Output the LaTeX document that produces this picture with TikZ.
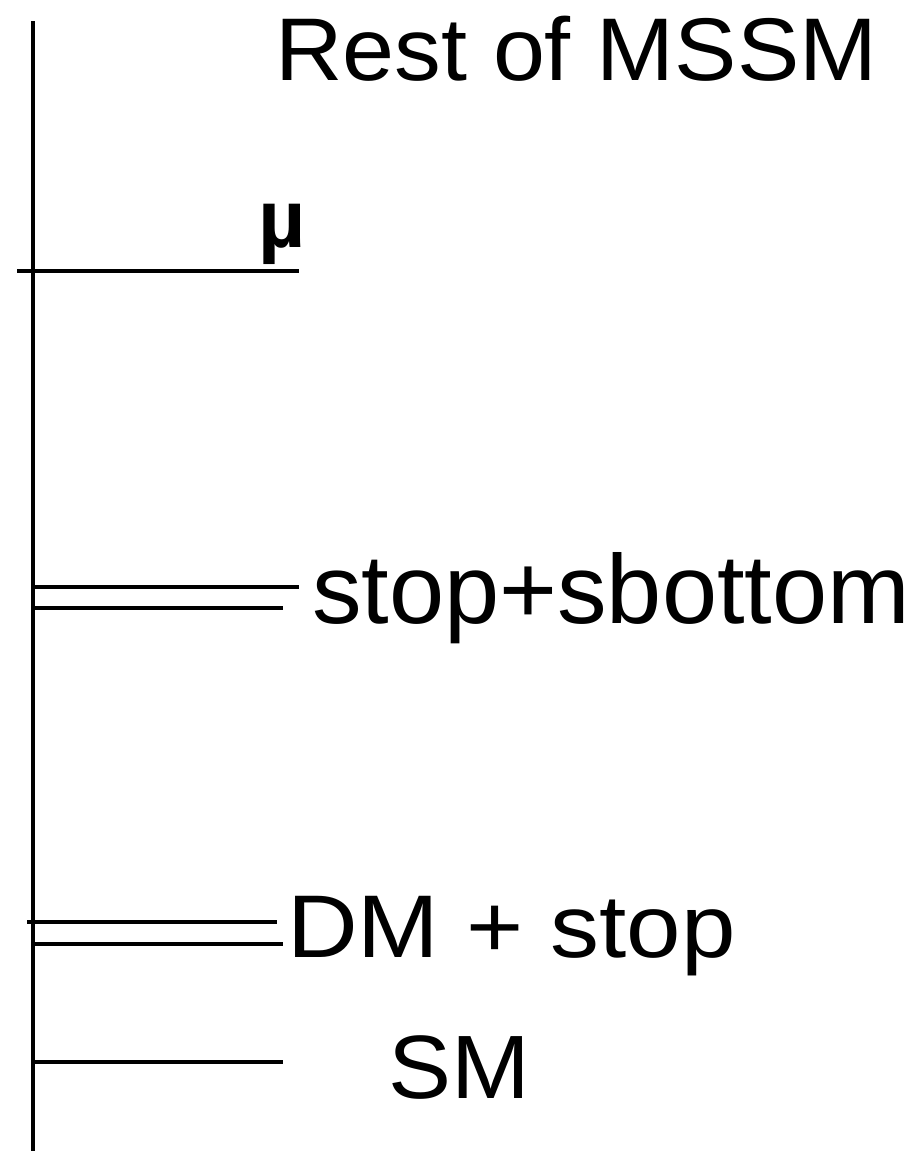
\documentclass[tikz,border=0pt]{standalone}
\usepackage{fontspec}
\setmainfont{Liberation Sans}
\begin{document}
\begin{tikzpicture}[x=1pt,y=-1pt,
  rule/.style={line width=4.2pt,black},
  lbl/.style={anchor=base west,inner sep=0pt,outer sep=0pt}]
\useasboundingbox (0,0) rectangle (919,1151);
\coordinate (top) at (33,21);
\coordinate (bot) at (33,1151);
\draw[rule] (top) -- (bot);
% mu
\coordinate (mu1) at (17,271);
\coordinate (mu2) at (299,271);
\draw[rule] (mu1) -- (mu2);
\node[lbl] (mulbl) at (258,247) {\fontsize{82}{100}\selectfont\bfseries µ};
% stop+sbottom
\coordinate (a1) at (33,587); \coordinate (a2) at (299,587);
\coordinate (b1) at (33,608); \coordinate (b2) at (283,608);
\draw[rule] (a1) -- (a2);
\draw[rule] (b1) -- (b2);
\node[lbl] (ss) at (312,623) {\scalebox{1.012}[1]{\fontsize{98}{110}\selectfont stop+sbottom}};
% DM + stop
\coordinate (c1) at (27,922); \coordinate (c2) at (277,922);
\coordinate (d1) at (33,944); \coordinate (d2) at (283,944);
\draw[rule] (c1) -- (c2);
\draw[rule] (d1) -- (d2);
\node[lbl] (dm) at (287,957) {\scalebox{1.1}[1]{\fontsize{89}{100}\selectfont DM + stop}};
% SM
\coordinate (e1) at (33,1062); \coordinate (e2) at (283,1062);
\draw[rule] (e1) -- (e2);
\node[lbl] (sm) at (388,1098) {\scalebox{1.05}[1]{\fontsize{90}{100}\selectfont SM}};
% top label
\node[lbl] (rest) at (275,80) {\scalebox{1.05}[1]{\fontsize{89}{100}\selectfont Rest of MSSM}};
\end{tikzpicture}
\end{document}
